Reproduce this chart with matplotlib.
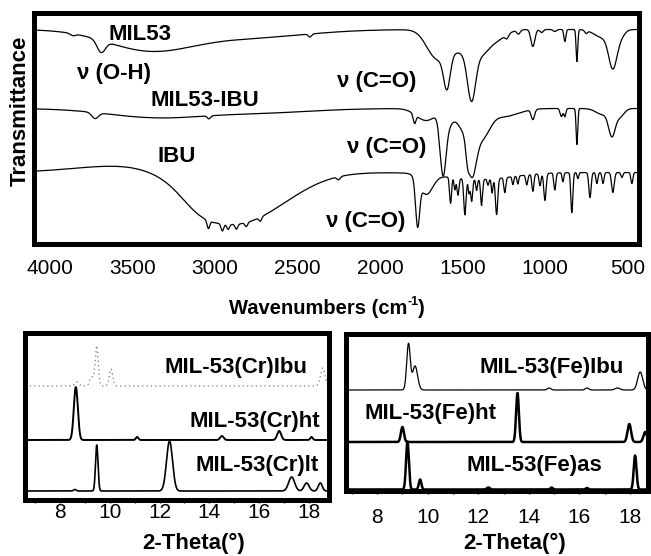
import numpy as np
import matplotlib
matplotlib.use("Agg")
import matplotlib.pyplot as plt
from matplotlib.ticker import MultipleLocator

plt.rcParams['font.family'] = ['Liberation Sans', 'DejaVu Sans']

W, H = 651, 556

# ---------------- IR data (wavenumber cm-1, band depth) ----------------
ir_offsets = {"MIL53": 214, "MIL53-IBU": 135, "IBU": 71}

# MIL53: (centre, depth, width)
mil53_c = [3860, 3690, 3400, 2800, 2424, 1660, 1594, 1500, 1445, 1380, 1300,
           1230, 1160, 1073, 1020, 940, 879, 806, 750, 650, 588, 540]
mil53_d = [2, 12, 20, 8, 3, 25, 34, 22, 50, 12, 10,
           4, 4, 17, 3, 2, 12, 32, 3, 8, 35, 6]
mil53_w = [15, 25, 260, 350, 10, 60, 20, 90, 25, 40, 60,
           10, 10, 12, 10, 10, 6, 5, 8, 50, 25, 25]

# MIL53-IBU
mibu_c = [3727, 3350, 3036, 2700, 1790, 1720, 1618, 1580, 1510, 1470, 1445, 1380,
          1250, 1073, 900, 879, 806, 650, 594, 545]
mibu_d = [6, 9, 3, 4, 9, 12, 58, 15, 15, 12, 58, 26,
          8, 10, 8, 8, 36, 6, 25, 8]
mibu_w = [20, 300, 10, 300, 8, 60, 18, 30, 25, 10, 28, 45,
          90, 10, 8, 6, 5, 40, 20, 25]

# IBU
ibu_c = [3550, 3100, 2950, 2650, 3040, 2955, 2920, 2870, 2810, 2725, 2250, 1400,
         1772, 1720, 1572, 1546, 1527, 1485, 1460, 1444, 1414, 1384, 1345, 1320,
         1293, 1243, 1194, 1164, 1110, 1073, 1030, 1000, 940, 891, 837, 800,
         727, 685, 648, 588, 533, 473]
ibu_d = [-7, 8, 42, 20, 8, 7, 5, 5, 4, 4, 3, 7,
         45, 20, 26, 12, 17, 36, 14, 22, 11, 26, 6, 14,
         36, 15, 8, 8, 10, 17, 12, 27, 17, 9, 40, 6,
         25, 11, 11, 20, 5, 11]
ibu_w = [300, 100, 230, 220, 8, 8, 8, 8, 8, 8, 10, 200,
         12, 40, 6, 5, 6, 7, 5, 6, 5, 6, 5, 5,
         7, 6, 5, 5, 6, 6, 6, 7, 6, 5, 6, 5,
         7, 6, 6, 8, 6, 6]

ir_ticks = [4000, 3500, 3000, 2500, 2000, 1500, 1000, 500]

# ---------------- XRD data (2-theta, peak height, width) ----------------
xrd_offsets = {"Cr_ibu": 113.5, "Cr_ht": 59.5, "Cr_lt": 8.5,
               "Fe_ibu": 101, "Fe_ht": 49, "Fe_as": 1.5}

cr_ibu_c = [8.68, 9.28, 9.48, 10.05, 18.55]
cr_ibu_h = [4, 9, 40, 17, 18]
cr_ibu_w = [0.08, 0.08, 0.06, 0.07, 0.09]

cr_ht_c = [8.64, 11.1, 14.5, 16.8, 18.1]
cr_ht_h = [53, 3, 4, 9, 3]
cr_ht_w = [0.08, 0.05, 0.07, 0.08, 0.05]

cr_lt_c = [8.6, 9.48, 12.4, 17.3, 17.9, 18.45]
cr_lt_h = [1.5, 46, 50, 14, 8, 8]
cr_lt_w = [0.05, 0.05, 0.12, 0.12, 0.1, 0.08]

fe_ibu_c = [9.24, 9.5, 14.8, 16.3, 17.5, 18.4]
fe_ibu_h = [46, 24, 2, 2, 2, 18]
fe_ibu_w = [0.07, 0.1, 0.07, 0.07, 0.1, 0.1]

fe_ht_c = [9.0, 13.55, 17.97, 18.6]
fe_ht_h = [15, 49, 18, 10]
fe_ht_w = [0.06, 0.055, 0.07, 0.07]

fe_as_c = [9.2, 9.7, 12.4, 14.9, 16.3, 18.2]
fe_as_h = [48, 10, 2, 2, 1.5, 34]
fe_as_w = [0.055, 0.05, 0.06, 0.05, 0.05, 0.055]

xrd_ticks = [8, 10, 12, 14, 16, 18]


def bands(x, centres, depths, widths):
    out = np.zeros_like(x)
    for c, d, w in zip(centres, depths, widths):
        out += d * np.exp(-0.5 * ((x - c) / w) ** 2)
    return out


fig = plt.figure(figsize=(W / 100, H / 100), dpi=100)
renderer = fig.canvas.get_renderer()


def axes_px(left, top, right, bottom):
    return fig.add_axes([left / W, 1 - bottom / H, (right - left) / W, (bottom - top) / H])


def ftext(x, y, s, **kw):
    return fig.text(x / W, 1 - y / H, s, ha='center', va='center', **kw)


def composite(xc, y, parts):
    """parts: list of (text, fontsize, raise_px) drawn side by side, centred at xc."""
    objs = []
    for s, fs, dy in parts:
        t = fig.text(0, 1 - (y - dy) / H, s, ha='left', va='center',
                     fontsize=fs, fontweight='bold')
        objs.append(t)
    widths = [t.get_window_extent(renderer).width for t in objs]
    x = xc - sum(widths) / 2
    for t, w in zip(objs, widths):
        t.set_x(x / W)
        x += w


FRAME = 3.6
LBL = 16

# ---------------- Top: IR ----------------
ax = axes_px(34, 13, 639, 243.5)
wn = np.linspace(430, 4097, 6000)
ax.plot(wn, ir_offsets["MIL53"] - bands(wn, mil53_c, mil53_d, mil53_w), color='black', lw=0.9)
ax.plot(wn, ir_offsets["MIL53-IBU"] - bands(wn, mibu_c, mibu_d, mibu_w), color='black', lw=0.9)
ax.plot(wn, ir_offsets["IBU"] - bands(wn, ibu_c, ibu_d, ibu_w), color='black', lw=0.9)
ax.set_xlim(4097, 430)
ax.set_ylim(0, 230.5)
ax.set_xticks(ir_ticks)
ax.set_xticklabels([str(t) for t in ir_ticks])
ax.set_yticks([])
ax.tick_params(axis='x', length=0, pad=11, labelsize=15)
for s in ax.spines.values():
    s.set_linewidth(FRAME)

ftext(140, 35, "MIL53", fontsize=LBL, fontweight='bold')
ftext(114, 73, "ν (O-H)", fontsize=LBL, fontweight='bold')
ftext(205, 100, "MIL53-IBU", fontsize=LBL, fontweight='bold')
ftext(177, 157, "IBU", fontsize=LBL, fontweight='bold')
ftext(377, 82, "ν (C=O)", fontsize=LBL, fontweight='bold')
ftext(387, 147, "ν (C=O)", fontsize=LBL, fontweight='bold')
ftext(366, 222, "ν (C=O)", fontsize=LBL, fontweight='bold')
ftext(20, 111, "Transmittance", fontsize=LBL, fontweight='bold', rotation=90)
composite(327, 308, [("Wavenumbers (cm", 14.5, 0), ("-1", 9, 6), (")", 14.5, 0)])

# ---------------- Bottom left: Cr XRD ----------------
tt = np.linspace(6.5, 19.2, 4000)
axl = axes_px(25.5, 333, 329, 499.5)
axl.plot(tt, xrd_offsets["Cr_ibu"] + bands(tt, cr_ibu_c, cr_ibu_h, cr_ibu_w),
         color='#777777', lw=0.9, ls=(0, (1, 2.5)))
axl.plot(tt, xrd_offsets["Cr_ht"] + bands(tt, cr_ht_c, cr_ht_h, cr_ht_w), color='black', lw=1.4)
axl.plot(tt, xrd_offsets["Cr_lt"] + bands(tt, cr_lt_c, cr_lt_h, cr_lt_w), color='black', lw=1.2)
axl.set_xlim(6.62, 18.8)
axl.set_ylim(0, 166.5)
ftext(236, 368, "MIL-53(Cr)Ibu", fontsize=LBL, fontweight='bold')
ftext(255, 422, "MIL-53(Cr)ht", fontsize=LBL, fontweight='bold')
ftext(257, 465, "MIL-53(Cr)lt", fontsize=LBL, fontweight='bold')
ftext(194, 543, "2-Theta(°)", fontsize=LBL, fontweight='bold')

# ---------------- Bottom right: Fe XRD ----------------
axr = axes_px(346, 334, 647.5, 491)
axr.plot(tt, xrd_offsets["Fe_ibu"] + bands(tt, fe_ibu_c, fe_ibu_h, fe_ibu_w), color='black', lw=0.9)
axr.plot(tt, xrd_offsets["Fe_ht"] + bands(tt, fe_ht_c, fe_ht_h, fe_ht_w), color='black', lw=1.8)
axr.plot(tt, xrd_offsets["Fe_as"] + bands(tt, fe_as_c, fe_as_h, fe_as_w), color='black', lw=1.8)
axr.set_xlim(6.77, 18.69)
axr.set_ylim(0, 157)
ftext(552, 367, "MIL-53(Fe)Ibu", fontsize=LBL, fontweight='bold')
ftext(431, 413, "MIL-53(Fe)ht", fontsize=LBL, fontweight='bold')
ftext(534, 465, "MIL-53(Fe)as", fontsize=LBL, fontweight='bold')
ftext(515, 543, "2-Theta(°)", fontsize=LBL, fontweight='bold')

for a, pad in ((axl, 0.2), (axr, 10)):
    a.set_xticks(xrd_ticks)
    a.xaxis.set_minor_locator(MultipleLocator(1))
    a.set_yticks([])
    a.tick_params(axis='x', which='major', length=2.5, width=1, direction='out', pad=pad, labelsize=15)
    a.tick_params(axis='x', which='minor', length=2, width=1, direction='out')
    for s in a.spines.values():
        s.set_linewidth(FRAME)

fig.savefig("out.png", dpi=100)
